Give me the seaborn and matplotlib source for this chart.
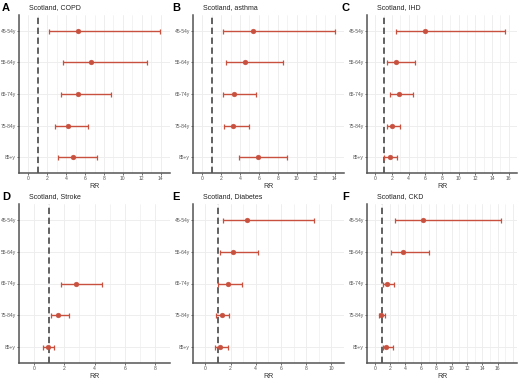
import numpy as np
import pandas as pd
import matplotlib
matplotlib.use("Agg")
import matplotlib.pyplot as plt
import seaborn as sns

# --- data (RR with 95% CI) ---
age_groups = ["45-54y", "55-64y", "65-74y", "75-84y", "85+y"]

copd_rr = [5.25, 6.67, 5.3, 4.2, 4.7]
copd_lo = [2.16, 3.65, 3.44, 2.8, 3.15]
copd_hi = [13.9, 12.6, 8.75, 6.35, 7.27]

asthma_rr = [5.33, 4.5, 3.4, 3.3, 5.86]
asthma_lo = [2.2, 2.5, 2.2, 2.3, 3.9]
asthma_hi = [14.0, 8.56, 5.65, 5.0, 9.0]

ihd_rr = [6.0, 2.5, 2.8, 2.0, 1.7]
ihd_lo = [2.47, 1.38, 1.8, 1.4, 1.04]
ihd_hi = [15.6, 4.8, 4.5, 3.0, 2.55]

stroke_rr = [np.nan, np.nan, 2.8, 1.6, 0.93]
stroke_lo = [np.nan, np.nan, 1.8, 1.09, 0.58]
stroke_hi = [np.nan, np.nan, 4.5, 2.29, 1.31]

diab_rr = [3.3, 2.19, 1.8, 1.29, 1.16]
diab_lo = [1.4, 1.19, 1.03, 0.87, 0.79]
diab_hi = [8.65, 4.2, 2.88, 1.9, 1.8]

ckd_rr = [6.28, 3.67, 1.6, 0.88, 1.46]
ckd_lo = [2.6, 2.12, 1.06, 0.62, 1.06]
ckd_hi = [16.45, 7.0, 2.48, 1.37, 2.35]

panels = [
    ("A", "Scotland, COPD", copd_rr, copd_lo, copd_hi, (-1, 15), np.arange(0, 15, 2)),
    ("B", "Scotland, asthma", asthma_rr, asthma_lo, asthma_hi, (-1, 15), np.arange(0, 15, 2)),
    ("C", "Scotland, IHD", ihd_rr, ihd_lo, ihd_hi, (-1, 17), np.arange(0, 17, 2)),
    ("D", "Scotland, Stroke", stroke_rr, stroke_lo, stroke_hi, (-1, 9), np.arange(0, 9, 2)),
    ("E", "Scotland, Diabetes", diab_rr, diab_lo, diab_hi, (-1, 11), np.arange(0, 11, 2)),
    ("F", "Scotland, CKD", ckd_rr, ckd_lo, ckd_hi, (-1, 18.5), np.arange(0, 17, 2)),
]

sns.set_theme(style="white")
plt.rcParams['font.family'] = ['Liberation Sans', 'DejaVu Sans']

red = "#C8503F"
W, H = 520, 379
fig = plt.figure(figsize=(W / 100, H / 100), dpi=100)

# axes boxes in pixels (left, top, right, bottom)
col_x = [(19, 170), (192.7, 344), (367, 517)]
row_y = [(15, 173), (204, 363)]
label_x = [2, 172, 342]
label_y = [3, 192]

for i, (lab, title, rr, lo, hi, xlim, xticks) in enumerate(panels):
    r, c = divmod(i, 3)
    x0, x1 = col_x[c]
    y0, y1 = row_y[r]
    ax = fig.add_axes([x0 / W, 1 - y1 / H, (x1 - x0) / W, (y1 - y0) / H])

    df = pd.DataFrame({"age": age_groups, "pos": np.arange(len(age_groups)),
                       "rr": rr, "lo": lo, "hi": hi}).dropna()

    # grid (major + minor vertical, horizontal at categories)
    for x in np.arange(xlim[0], xlim[1] + 0.01, 1):
        ax.axvline(x, color="#EDEDED", lw=0.45 if x % 2 else 0.65, zorder=0)
    for y in range(len(age_groups)):
        ax.axhline(y, color="#EDEDED", lw=0.65, zorder=0)

    ax.axvline(1, color="#555555", lw=1.3, ls=(0, (3.5, 2)), zorder=1)

    ax.errorbar(df["rr"], df["pos"],
                xerr=[df["rr"] - df["lo"], df["hi"] - df["rr"]],
                fmt="none", ecolor=red, elinewidth=1.0, capsize=1.8,
                capthick=0.9, zorder=2)
    sns.scatterplot(data=df, x="rr", y="pos", color=red, s=12,
                    edgecolor=red, linewidth=0.3, ax=ax, zorder=3)

    ax.set_xlim(*xlim)
    ax.set_ylim(len(age_groups) - 0.5, -0.5)
    ax.set_xticks(xticks)
    ax.set_xticklabels([str(t) for t in xticks])
    ax.set_yticks(range(len(age_groups)))
    ax.set_yticklabels(age_groups)
    ax.set_xlabel("RR", fontsize=5, color="#333333", labelpad=1.5)
    ax.set_ylabel("")
    ax.tick_params(axis="both", labelsize=3.6, labelcolor="#555555",
                   length=1.3, width=0.5, color="#333333", pad=0.8,
                   left=True, bottom=True)

    for s in ["top", "right"]:
        ax.spines[s].set_visible(False)
    for s in ["left", "bottom"]:
        ax.spines[s].set_color("#555555")
        ax.spines[s].set_linewidth(1.1)

    fig.text((x0 + 10) / W, 1 - (y0 - 4) / H, title, fontsize=5,
             color="#222222", ha="left", va="bottom")
    fig.text(label_x[c] / W, 1 - label_y[r] / H, lab, fontsize=8,
             fontweight="bold", ha="left", va="top", color="black")

fig.savefig("out.png", dpi=100)
